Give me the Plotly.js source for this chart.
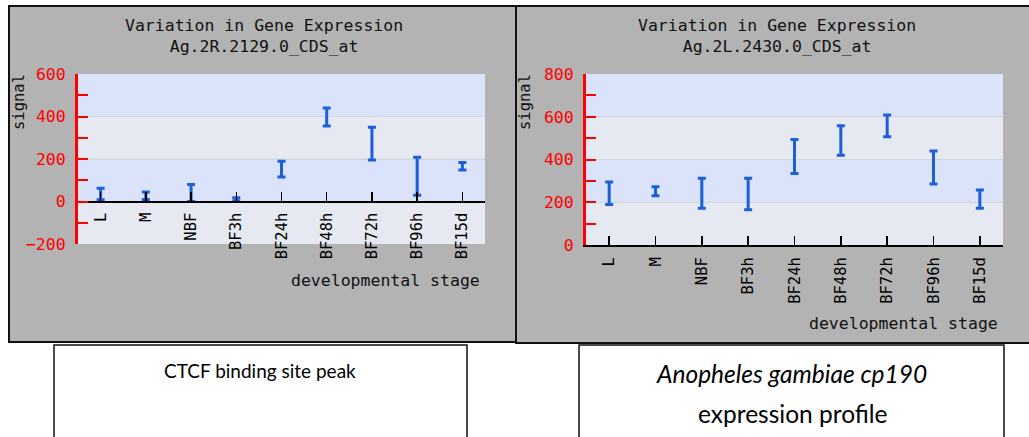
<!DOCTYPE html>
<html>
<head>
<meta charset="utf-8">
<script src="https://cdn.plot.ly/plotly-3.0.1.min.js"></script>
<style>html,body{margin:0;padding:0;background:#fff;}#chart{width:1029px;height:437px;}</style>
</head>
<body>
<div id="chart"></div>
<script>
// ---- data ----
const categories = ['L', 'M', 'NBF', 'BF3h', 'BF24h', 'BF48h', 'BF72h', 'BF96h', 'BF15d'];
const leftLow  = [8, 10, 0, 2, 115, 355, 195, 30, 148];
const leftHigh = [62, 45, 80, 18, 190, 440, 350, 208, 183];
const rightLow  = [190, 230, 172, 165, 335, 420, 507, 285, 172];
const rightHigh = [295, 272, 312, 312, 494, 558, 608, 440, 257];
const leftTitle = 'Variation in Gene Expression<br>Ag.2R.2129.0_CDS_at';
const rightTitle = 'Variation in Gene Expression<br>Ag.2L.2430.0_CDS_at';
const yTitle = 'signal';
const xTitle = 'developmental stage';
const leftCaption = 'CTCF binding site peak';
const rightCaption1 = '<i>Anopheles gambiae cp190</i>';
const rightCaption2 = 'expression profile';
const leftRange = [-200, 600];
const rightRange = [0, 800];

// ---- helpers ----
const W = 1029, H = 437;
const px = x => x / W;
const py = y => 1 - y / H;
const mono = 'DejaVu Sans Mono, monospace';
const capFont = 'Lato, Open Sans, sans-serif';
const barColor = '#1b5fd9';

function errTrace(lo, hi, xa, ya) {
  const mid = lo.map((v, i) => (v + hi[i]) / 2);
  const half = lo.map((v, i) => (hi[i] - v) / 2);
  return {
    type: 'scatter', mode: 'markers', x: categories, y: mid,
    xaxis: xa, yaxis: ya,
    marker: {size: 1, color: 'rgba(0,0,0,0)'},
    error_y: {type: 'data', symmetric: true, array: half, color: barColor, thickness: 3, width: 4},
    hoverinfo: 'skip'
  };
}

const lDom = [py(244), py(74)];
const rDom = [py(245), py(74)];
const zeroPos = lDom[0] + (0 - leftRange[0]) / (leftRange[1] - leftRange[0]) * (lDom[1] - lDom[0]);

function yAxis(dom, range, anchor) {
  return {
    domain: dom, range: range, anchor: anchor, dtick: 200, tick0: 0,
    showline: true, linecolor: '#ff0000', linewidth: 3,
    ticks: 'inside', ticklen: 10, tickwidth: 2, tickcolor: '#ff0000',
    minor: {dtick: 100, tick0: 0, ticks: 'inside', ticklen: 10, tickwidth: 2, tickcolor: '#ff0000', showgrid: false},
    showgrid: true, gridcolor: '#d3d6dc', gridwidth: 1, zeroline: false,
    tickfont: {family: mono, size: 16.5, color: '#ff0000'},
    ticklabelstandoff: 6, fixedrange: true
  };
}
function xAxis(dom, anchor, pos) {
  const a = {
    domain: dom, type: 'category', range: [-0.5, 8.5],
    showline: true, linecolor: '#000000', linewidth: 2,
    ticks: 'inside', ticklen: 9, tickwidth: 1.5, tickcolor: '#000000',
    tickangle: -90, tickfont: {family: mono, size: 15.5, color: '#000000'},
    showgrid: false, zeroline: false, ticklabelstandoff: 4, fixedrange: true
  };
  if (pos !== undefined) { a.anchor = 'free'; a.position = pos; } else { a.anchor = anchor; }
  return a;
}

function bands(xref, yref, range) {
  const s = [{type: 'rect', xref: xref + ' domain', yref: yref + ' domain', x0: 0, x1: 1, y0: 0, y1: 1,
    fillcolor: '#e6e9f1', line: {width: 0}, layer: 'below'}];
  for (let v = range[1]; v > range[0]; v -= 400) {
    s.push({type: 'rect', xref: xref + ' domain', yref: yref, x0: 0, x1: 1, y0: v - 200, y1: v,
      fillcolor: '#dae3f9', line: {width: 0}, layer: 'below'});
  }
  for (let v = range[1] - 200; v > range[0]; v -= 200) {
    s.push({type: 'line', xref: xref + ' domain', yref: yref, x0: 0, x1: 1, y0: v, y1: v,
      line: {color: '#d3d6dc', width: 1}, layer: 'below'});
  }
  return s;
}

const shapes = [
  {type: 'rect', xref: 'paper', yref: 'paper', x0: px(9), x1: px(516), y0: py(342), y1: py(6),
   fillcolor: '#b3b3b3', line: {color: '#111', width: 2}, layer: 'below'},
  {type: 'rect', xref: 'paper', yref: 'paper', x0: px(516), x1: px(1033), y0: py(343), y1: py(6),
   fillcolor: '#b3b3b3', line: {color: '#111', width: 2}, layer: 'below'},
  {type: 'rect', xref: 'paper', yref: 'paper', x0: px(54), x1: px(467), y0: py(445), y1: py(345),
   fillcolor: '#ffffff', line: {color: '#111', width: 1.5}},
  {type: 'rect', xref: 'paper', yref: 'paper', x0: px(579), x1: px(1004), y0: py(445), y1: py(345),
   fillcolor: '#ffffff', line: {color: '#111', width: 1.5}}
].concat(bands('x', 'y', leftRange), bands('x2', 'y2', rightRange));

function ann(text, x, y, opts) {
  return Object.assign({text: text, xref: 'paper', yref: 'paper', x: px(x), y: py(y),
    showarrow: false, xanchor: 'center', yanchor: 'middle',
    font: {family: mono, size: 16.5, color: '#111'}}, opts || {});
}

const annotations = [
  ann(leftTitle, 264, 36),
  ann(rightTitle, 777, 36),
  ann(yTitle, 19, 72, {textangle: -90, yanchor: 'top', font: {family: mono, size: 15.5, color: '#111'}}),
  ann(yTitle, 525, 72, {textangle: -90, yanchor: 'top', font: {family: mono, size: 15.5, color: '#111'}}),
  ann(xTitle, 482, 280, {xanchor: 'right'}),
  ann(xTitle, 1000, 323, {xanchor: 'right'}),
  ann(leftCaption, 260, 370, {font: {family: capFont, size: 19, color: '#000'}}),
  ann(rightCaption1, 791, 373, {font: {family: capFont, size: 24.5, color: '#000'}}),
  ann(rightCaption2, 793, 413, {font: {family: capFont, size: 24.5, color: '#000'}})
];

const layout = {
  width: W, height: H, margin: {l: 0, r: 0, t: 0, b: 0},
  paper_bgcolor: '#ffffff', plot_bgcolor: '#e6e9f1', showlegend: false,
  xaxis: xAxis([px(78), px(485)], null, zeroPos),
  yaxis: yAxis(lDom, leftRange, 'x'),
  xaxis2: xAxis([px(586), px(1003)], 'y2'),
  yaxis2: yAxis(rDom, rightRange, 'x2'),
  shapes: shapes, annotations: annotations
};

Plotly.newPlot('chart', [
  errTrace(leftLow, leftHigh, 'x', 'y'),
  errTrace(rightLow, rightHigh, 'x2', 'y2')
], layout, {staticPlot: true, displayModeBar: false});
</script>
</body>
</html>
